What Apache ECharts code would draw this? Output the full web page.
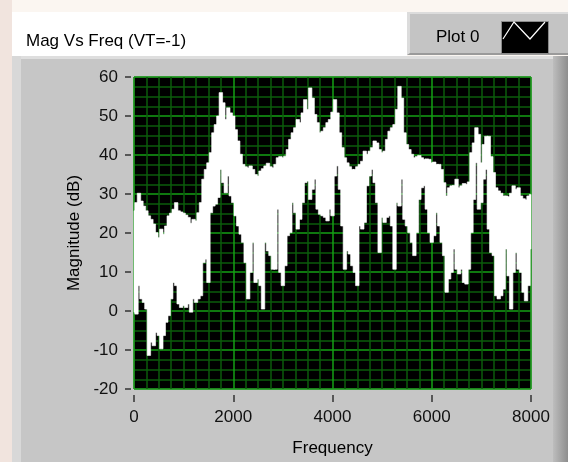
<!DOCTYPE html>
<html>
<head>
<meta charset="utf-8">
<script type="text/javascript" src="https://cdn.jsdelivr.net/npm/echarts@6/dist/echarts.min.js"></script>
<style>
    body { margin: 0; background: #fff; }
    #frame { position: relative; width: 568px; height: 462px; overflow: hidden; background: #fbf6f1; }
    #frame .deco { position: absolute; }
    #container { position: absolute; left: 0; top: 0; width: 568px; height: 462px; }
</style>
</head>
<body>
<div id="frame">
    <div class="deco" style="left:0;top:0;width:12px;height:462px;background:#f1e4de"></div>
    <div class="deco" style="left:12px;top:12px;width:395px;height:44px;background:#fff"></div>
    <div class="deco" style="left:12px;top:56px;width:556px;height:406px;background:#c6c6c6;border-top:3px solid #dedede;box-sizing:border-box"></div>
    <div class="deco" style="left:12px;top:56px;width:9px;height:406px;background:#d8d8d8"></div>
    <div class="deco" style="left:553px;top:56px;width:15px;height:406px;background:linear-gradient(to right,#bdbdbd,#8e8e8e)"></div>
    <div class="deco" style="left:407px;top:12px;width:161px;height:43px;background:#c4c4c4;border-top:2px solid #dcdcdc;border-left:3px solid #dcdcdc;border-bottom:2px solid #9a9a9a;box-sizing:border-box"></div>
    <div id="container"></div>
</div>
<script type="text/javascript">
    // sample spacing of the spectrum (Hz), one band per sample
    var freqStep = 50;
    // upper edge of the trace in each 50 Hz bin (dB), 0 .. 8000 Hz
    var magHigh = [
        25.7, 27.8, 30.2, 28.2, 26.9, 25.7, 24.4, 23.5, 22.3, 20.1,
        18.8, 21.0, 19.7, 21.8, 24.4, 25.1, 26.1, 27.8, 25.7, 25.4,
        25.1, 24.6, 24.0, 22.5, 23.5, 23.1, 25.2, 27.8, 33.8, 36.3,
        38.0, 40.6, 45.7, 47.8, 50.0, 56.0, 53.4, 49.1, 52.1, 50.8,
        50.0, 46.5, 43.6, 40.2, 37.6, 37.0, 36.7, 37.2, 36.3, 35.0,
        34.6, 35.9, 36.5, 37.2, 37.9, 37.0, 36.7, 37.6, 39.3, 39.6,
        39.3, 39.7, 41.4, 44.0, 45.7, 47.0, 49.1, 48.3, 50.8, 54.2,
        51.7, 57.2, 54.6, 50.4, 48.3, 45.7, 46.1, 47.0, 48.3, 49.1,
        51.0, 54.2, 50.8, 45.7, 41.9, 39.3, 38.0, 37.0, 36.3, 36.3,
        37.0, 37.6, 38.4, 41.0, 40.2, 41.0, 41.9, 43.6, 43.1, 41.4,
        40.6, 41.0, 44.0, 46.1, 47.0, 47.8, 51.7, 57.6, 54.6, 45.7,
        42.7, 41.4, 40.2, 39.3, 39.6, 39.9, 39.3, 38.9, 39.0, 38.9,
        38.0, 38.2, 37.6, 37.6, 36.3, 32.9, 29.5, 31.6, 32.1, 32.2,
        33.8, 31.6, 32.1, 32.7, 32.5, 33.1, 40.6, 43.1, 47.0, 45.3,
        38.0, 42.7, 44.8, 44.8, 39.6, 35.5, 31.6, 30.8, 30.2, 29.5,
        29.5, 29.3, 30.2, 32.1, 31.2, 31.6, 29.5, 28.8, 28.5, 29.5,
        29.9
    ];
    // lower edge of the trace in each bin (dB)
    var magLow = [
        -0.3, -0.8, 6.5, 3.1, 2.2, 0.5, -11.4, -8.0, -8.9, -5.5,
        -6.3, -9.7, -6.3, -2.9, -1.2, 3.1, 7.3, 6.5, 1.8, 0.9,
        1.4, 0.9, 1.8, -0.3, 3.1, 2.2, 3.1, 3.9, 12.4, 13.3,
        7.3, 25.2, 26.9, 27.4, 29.1, 36.3, 32.9, 30.3, 34.6, 29.5,
        27.8, 24.4, 21.8, 19.7, 17.6, 12.4, 3.1, 9.9, 17.6, 7.3,
        8.2, 6.5, 0.5, 17.6, 15.4, 14.2, 10.7, 10.7, 26.1, 9.9,
        6.5, 11.6, 19.3, 20.1, 27.8, 25.2, 21.0, 23.5, 27.8, 32.9,
        33.3, 28.6, 31.2, 33.8, 26.1, 24.8, 24.4, 24.0, 23.1, 26.1,
        24.4, 34.6, 37.2, 31.2, 21.8, 10.7, 15.4, 14.6, 11.6, 9.9,
        6.5, 21.8, 21.0, 22.7, 32.1, 34.6, 36.3, 32.9, 27.8, 15.0,
        24.0, 22.7, 24.0, 24.4, 21.8, 10.7, 27.8, 26.9, 33.8, 23.5,
        21.8, 20.1, 17.6, 14.2, 20.1, 28.6, 31.6, 32.1, 26.1, 20.1,
        17.6, 19.3, 25.2, 21.8, 17.6, 14.2, 4.8, 8.2, 9.9, 15.9,
        10.7, 9.5, 10.7, 7.3, 6.9, 10.7, 20.1, 28.6, 38.0, 26.1,
        27.8, 33.8, 36.3, 21.0, 15.0, 14.2, 3.9, 3.1, 3.9, 5.6,
        15.9, 9.0, 0.5, 9.9, 15.0, 10.7, 9.9, 4.8, 2.6, 6.5,
        15.9
    ];
    var freqMin = 0, freqMax = 8000, freqTick = 2000;
    var magMin = -20, magMax = 60, magTick = 10;

    var fontName = 'Liberation Sans';
    var bandData = magHigh.map(function (h, i) {
        return [i * freqStep, magLow[i], h];
    });

    function renderBand(params, api) {
        var f = api.value(0);
        var p1 = api.coord([f - freqStep / 2, api.value(2)]);
        var p2 = api.coord([f + freqStep / 2, api.value(1)]);
        var cs = params.coordSys;
        var shape = echarts.graphic.clipRectByRect({
            x: p1[0] - 0.5,
            y: p1[1],
            width: p2[0] - p1[0] + 1,
            height: p2[1] - p1[1]
        }, { x: cs.x, y: cs.y, width: cs.width, height: cs.height });
        return shape && {
            type: 'rect',
            shape: shape,
            style: { fill: '#ffffff', stroke: '#ffffff', lineWidth: 0.6 }
        };
    }

    var myChart = echarts.init(document.getElementById('container'));
    var option = {
        animation: false,
        backgroundColor: 'transparent',
        title: {
            text: 'Mag Vs Freq (VT=-1)',
            left: 21,
            top: 28,
            textStyle: { fontFamily: fontName, fontSize: 17, fontWeight: 'normal', color: '#000' }
        },
        legend: {
            data: ['Plot 0'],
            left: 431,
            top: 16,
            align: 'right',
            icon: 'rect',
            itemWidth: 47,
            itemHeight: 32,
            itemStyle: { color: '#000', borderColor: '#8a8a8a', borderWidth: 1 },
            textStyle: { fontFamily: fontName, fontSize: 17, color: '#000', padding: [0, 17, 0, 0] }
        },
        graphic: {
            elements: [
                {
                    type: 'polyline', z: 100,
                    shape: { points: [[503, 39], [514, 22], [530, 39], [545, 22]] },
                    style: { stroke: '#ffffff', lineWidth: 1.2, fill: null }
                }
            ]
        },
        grid: {
            left: 134,
            right: 37,
            top: 77,
            bottom: 72,
            show: true,
            backgroundColor: '#000000',
            borderColor: '#5a5a5a',
            borderWidth: 1
        },
        xAxis: {
            type: 'value',
            min: freqMin,
            max: freqMax,
            interval: freqTick,
            offset: 6,
            name: 'Frequency',
            nameLocation: 'middle',
            nameGap: 45,
            nameTextStyle: { fontFamily: fontName, fontSize: 17, color: '#000', verticalAlign: 'top' },
            axisLine: { show: true, onZero: false, lineStyle: { color: 'rgba(0,0,0,0)' } },
            axisTick: { show: true, length: 7, lineStyle: { color: '#333', width: 1.5 } },
            axisLabel: {
                fontFamily: fontName, fontSize: 17, color: '#111', margin: 14,
                formatter: function (v) { return String(v); }
            },
            splitLine: { show: true, lineStyle: { color: '#14a014', width: 1.5 } },
            minorTick: { show: false, splitNumber: 8 },
            minorSplitLine: { show: true, lineStyle: { color: '#0b5c0b', width: 1.5 } }
        },
        yAxis: {
            type: 'value',
            min: magMin,
            max: magMax,
            interval: magTick,
            offset: 3,
            name: 'Magnitude (dB)',
            nameLocation: 'middle',
            nameRotate: 90,
            nameGap: 45,
            nameTextStyle: { fontFamily: fontName, fontSize: 17, color: '#000' },
            axisLine: { show: true, onZero: false, lineStyle: { color: 'rgba(0,0,0,0)' } },
            axisTick: { show: true, length: 6, lineStyle: { color: '#333', width: 1.5 } },
            axisLabel: { fontFamily: fontName, fontSize: 17, color: '#111', margin: 13 },
            splitLine: { show: true, lineStyle: { color: '#14a014', width: 1.5 } },
            minorTick: { show: false, splitNumber: 4 },
            minorSplitLine: { show: true, lineStyle: { color: '#0b5c0b', width: 1.5 } }
        },
        series: [
            {
                name: 'Plot 0',
                type: 'custom',
                renderItem: renderBand,
                encode: { x: 0, y: [1, 2] },
                data: bandData
            }
        ]
    };
    myChart.setOption(option);
</script>
</body>
</html>
